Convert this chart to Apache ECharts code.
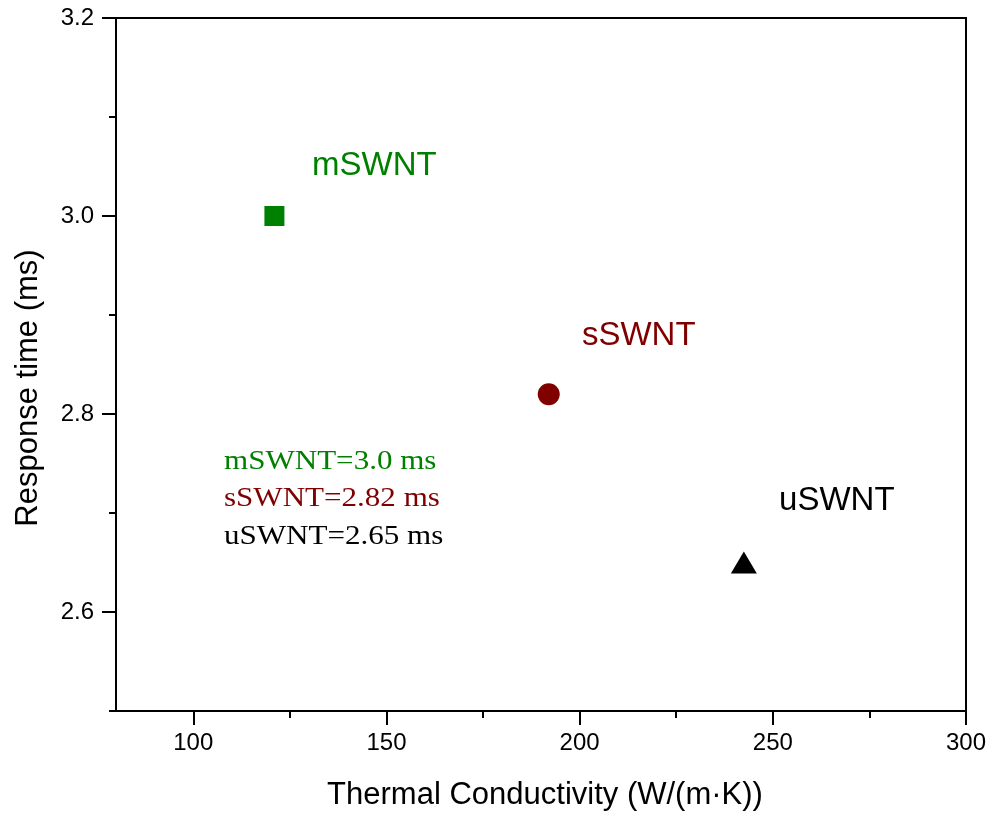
<!DOCTYPE html>
<html><head><meta charset="utf-8">
<script src="https://cdn.jsdelivr.net/npm/echarts@6/dist/echarts.min.js"></script>
<style>html,body{margin:0;padding:0;background:#fff}#c{width:994px;height:817px}</style>
</head><body><div id="c"></div>
<script>
const names = ['mSWNT', 'sSWNT', 'uSWNT'];
const conductivity = [121, 192, 242.5];
const responseTime = [3.0, 2.82, 2.65];
const colors = ['#008000', '#800000', '#000000'];
const symbols = ['rect', 'circle', 'triangle'];
const symbolSizes = [20, 22, [26, 22]];
const labelOffsets = [[100, -50], [90, -58], [93, -62]];
const xMajor = [100, 150, 200, 250, 300];
const xMinor = [125, 175, 225, 275];
const yMajor = [2.6, 2.8, 3.0, 3.2];
const yMinor = [2.5, 2.7, 2.9, 3.1];
const notes = ['mSWNT=3.0 ms', 'sSWNT=2.82 ms', 'uSWNT=2.65 ms'];
const xTitle = 'Thermal Conductivity (W/(m\u00b7K))';
const yTitle = 'Response time (ms)';

const chart = echarts.init(document.getElementById('c'));
const font = 'Liberation Sans, Arial, sans-serif';
function xa(ticks, len, labels) {
  return {type: 'value', min: 80, max: 300, position: 'bottom',
    axisLine: {show: labels, lineStyle: {color: '#000', width: 2}},
    axisTick: {show: true, inside: false, length: len, customValues: ticks, lineStyle: {color: '#000', width: 2}},
    axisLabel: {show: labels, customValues: ticks, color: '#000', fontSize: 24, fontFamily: font, margin: 20},
    splitLine: {show: false}};
}
function ya(ticks, len, labels) {
  return {type: 'value', min: 2.5, max: 3.2, position: 'left',
    axisLine: {show: labels, lineStyle: {color: '#000', width: 2}},
    axisTick: {show: true, inside: false, length: len, customValues: ticks, lineStyle: {color: '#000', width: 2}},
    axisLabel: {show: labels, customValues: ticks, color: '#000', fontSize: 24, fontFamily: font, margin: 22,
      formatter: v => v.toFixed(1)},
    splitLine: {show: false}};
}
const titleFont = '31px "Liberation Sans", Arial, sans-serif';
const option = {
  backgroundColor: '#fff',
  animation: false,
  grid: {left: 116, right: 28, top: 18, bottom: 106, show: true, borderColor: '#000', borderWidth: 2, containLabel: false},
  xAxis: [xa(xMajor, 14, true), xa(xMinor, 7, false)],
  yAxis: [ya(yMajor, 14, true), ya(yMinor, 7, false)],
  graphic: notes.map((t, i) => ({type: 'text', x: 224, y: 448 + i * 37.5, scaleX: 1.15,
    style: {text: t, fill: colors[i], font: '27px "Liberation Serif", "Times New Roman", serif'}}))
    .concat([
      {type: 'text', x: 545, y: 795, style: {text: xTitle, fill: '#000', font: titleFont, align: 'center', verticalAlign: 'middle'}},
      {type: 'text', x: 28, y: 388, rotation: Math.PI / 2, style: {text: yTitle, fill: '#000', font: titleFont, align: 'center', verticalAlign: 'middle'}}
    ]),
  series: names.map((n, i) => ({
    type: 'scatter', name: n,
    data: [[conductivity[i], responseTime[i]]],
    symbol: symbols[i], symbolSize: symbolSizes[i],
    itemStyle: {color: colors[i], opacity: 1},
    emphasis: {disabled: true},
    label: {show: true, formatter: n, position: 'inside', offset: labelOffsets[i],
      color: colors[i], fontSize: 33, fontFamily: font}
  }))
};
chart.setOption(option);
</script></body></html>
